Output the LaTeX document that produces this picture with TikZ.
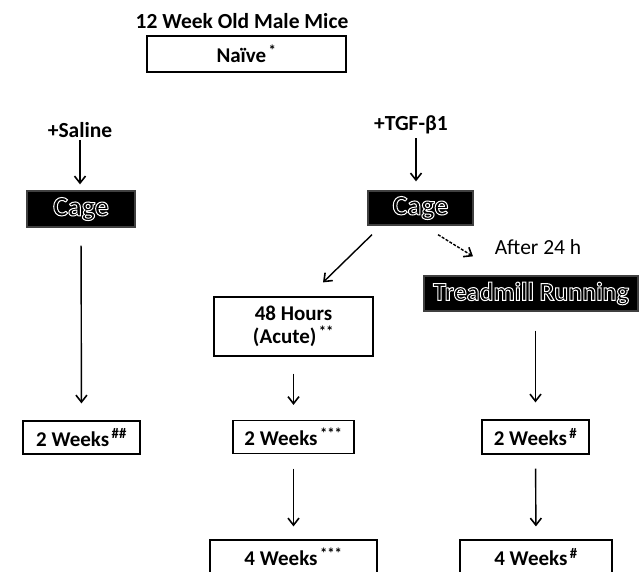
\documentclass[tikz,border=0pt]{standalone}
\usepackage{fontspec}
\setmainfont{Carlito}
\usetikzlibrary{arrows.meta}
\newcommand\outlinetext[1]{\special{pdf:literal direct 1 Tr 1 w}#1\special{pdf:literal direct 0 Tr}}
\tikzset{
  txt/.style={font=\fontsize{21.5}{24}\selectfont\bfseries, inner sep=0pt},
  wbox/.style={draw=black, line width=1.2pt, fill=white, inner sep=0pt, font=\fontsize{21}{23.5}\selectfont\bfseries, align=center},
  bbox/.style={draw=black!75, line width=1.3pt, fill=black, text=white, inner sep=0pt, font=\fontsize{26}{28}\selectfont\bfseries},
  arr/.style={line width=1.4pt, -{Straight Barb[length=7pt,width=11pt,line width=1.6pt]}},
}
\begin{document}
\begin{tikzpicture}[x=1pt,y=-1pt]
\useasboundingbox[fill=white] (0,0) rectangle (643,572);
% title and naive
\node[txt] (title) at (242,21) {12 Week Old Male Mice};
\node[wbox, minimum width=199pt, minimum height=36pt] (naive) at (246.5,54) {Naïve\textsuperscript{\,*}};
% left branch
\node[txt] (saline) at (80,130) {+Saline};
\node[bbox, minimum width=108pt, minimum height=36pt, font=\fontsize{28}{30}\selectfont\bfseries] (cageL) at (81,209) {\outlinetext{Cage}};
\node[wbox, minimum width=117pt, minimum height=33pt] (twL) at (81.5,437.5) {2 Weeks\textsuperscript{\,\#\#}};
% right branch
\node[txt] (tgf) at (411,125) {+TGF-β1};
\node[bbox, minimum width=105pt, minimum height=34pt, font=\fontsize{28}{30}\selectfont\bfseries] (cageR) at (420.5,208) {\outlinetext{Cage}};
\node[txt, font=\fontsize{21.5}{24}\selectfont] (after) at (538,247) {After 24 h};
\node[bbox, minimum width=214pt, minimum height=35pt] (tread) at (531,293.5) {\outlinetext{Treadmill Running}};
\node[wbox, minimum width=159pt, minimum height=59pt] (hrs) at (293.5,326.5) {48 Hours\\(Acute)\textsuperscript{\,**}};
\node[wbox, minimum width=121pt, minimum height=33pt] (twM) at (293.5,437) {2 Weeks\textsuperscript{\,***}};
\node[wbox, minimum width=167pt, minimum height=34pt] (fwM) at (293.5,557) {4 Weeks\textsuperscript{\,***}};
\node[wbox, minimum width=107pt, minimum height=34pt] (twR) at (535.5,437) {2 Weeks\textsuperscript{\,\#}};
\node[wbox, minimum width=152pt, minimum height=34pt] (fwR) at (536,557) {4 Weeks\textsuperscript{\,\#}};
% connectors
\draw[arr, shorten <=2pt, shorten >=6pt] (saline.south) -- (saline.south |- cageL.north);
\draw[arr, shorten <=18pt, shorten >=17pt] (cageL.south) -- (twL.north);
\draw[arr, shorten <=4pt, shorten >=9pt] ([xshift=5pt]tgf.south) -- ([xshift=5pt]tgf.south |- cageR.north);
\draw[arr] ([xshift=-48.5pt,yshift=-9pt]cageR.south) -- ([xshift=29.5pt,yshift=14pt]hrs.north);
\draw[arr, dash pattern=on 3pt off 1.5pt] ([xshift=17.5pt,yshift=-9pt]cageR.south) -- ([xshift=-58pt,yshift=19pt]tread.north);
\draw[arr, shorten <=19pt, shorten >=17pt] ([xshift=4.5pt]tread.south) -- ([xshift=4.5pt]tread.south |- twR.north);
\draw[arr, shorten <=17pt, shorten >=15pt] (hrs.south) -- (twM.north);
\draw[arr, shorten <=14.5pt, shorten >=13pt] (twM.south) -- (fwM.north);
\draw[arr, shorten <=14pt, shorten >=13pt] (twR.south) -- (fwR.north);
\end{tikzpicture}
\end{document}
